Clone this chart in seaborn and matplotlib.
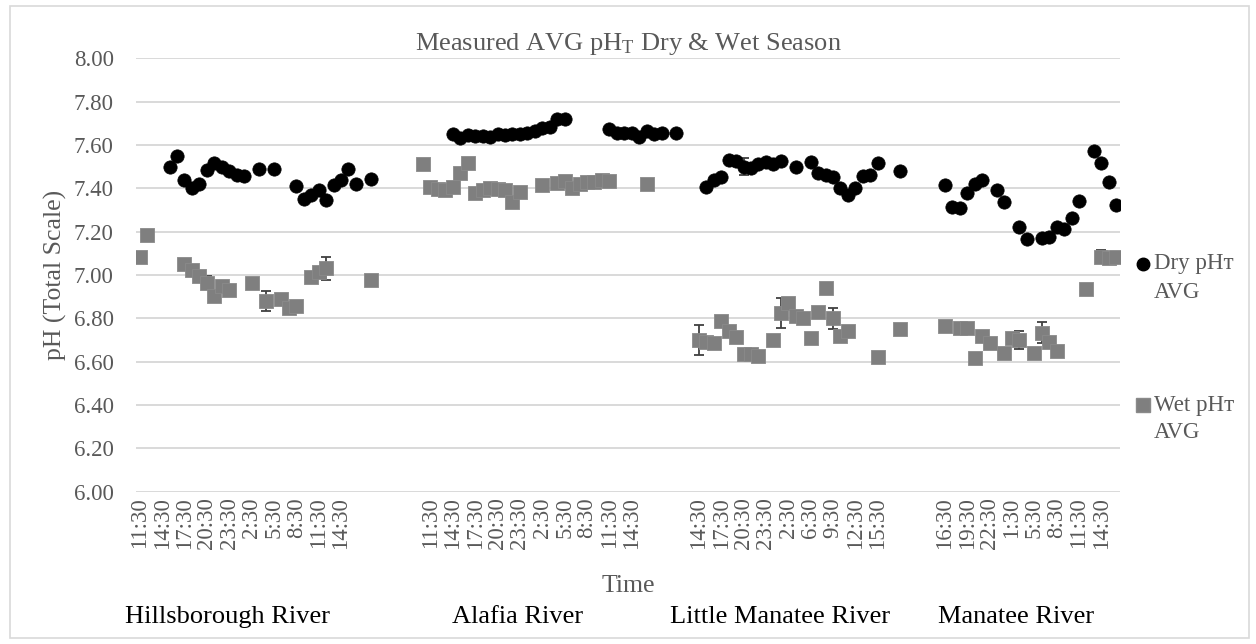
import numpy as np
import pandas as pd
import matplotlib
matplotlib.use("Agg")
import matplotlib.pyplot as plt
from matplotlib.lines import Line2D
from matplotlib.patches import Rectangle
import seaborn as sns

nan = np.nan

rivers = ["Hillsborough River", "Alafia River", "Little Manatee River", "Manatee River"]

# ---------------- Hillsborough River ----------------
hills_labels = ["11:30", "", "", "14:30", "", "", "17:30", "", "", "20:30", "", "", "23:30", "", "", "2:30",
                "", "", "5:30", "", "", "8:30", "", "", "11:30", "", "", "14:30", "", "", "", ""]
hills_dry = [nan, nan, nan, nan, 7.50, 7.55, 7.44, 7.40, 7.42, 7.485, 7.515, 7.50, 7.48, 7.46, 7.455, nan,
             7.49, nan, 7.49, nan, nan, 7.41, 7.35, 7.37, 7.39, 7.345, 7.415, 7.44, 7.49, 7.42, nan, 7.445]
hills_wet = [7.085, 7.185, nan, nan, nan, nan, 7.05, 7.025, 6.995, 6.965, 6.905, 6.95, 6.93, nan, nan, 6.965,
             nan, 6.88, nan, 6.89, 6.85, 6.855, nan, 6.99, 7.015, 7.03, nan, nan, nan, nan, nan, 6.975]
hills_wet_err = [0, 0, 0, 0, 0, 0, 0, 0, 0, 0.03, 0, 0, 0, 0, 0, 0,
                 0, 0.048, 0, 0, 0, 0, 0, 0, 0, 0.055, 0, 0, 0, 0, 0, 0]

# ---------------- Alafia River ----------------
alafia_labels = ["", "11:30", "", "", "14:30", "", "", "17:30", "", "", "20:30", "", "", "23:30", "", "",
                 "2:30", "", "", "5:30", "", "", "8:30", "", "", "11:30", "", "", "14:30", "", "", "", "", "", ""]
alafia_dry = [nan, nan, nan, nan, 7.65, 7.63, 7.645, 7.64, 7.64, 7.635, 7.65, 7.645, 7.65, 7.65, 7.655, 7.665,
              7.68, 7.685, 7.72, 7.72, nan, nan, nan, nan, nan, 7.675, 7.655, 7.655, 7.655, 7.635, 7.665, 7.65,
              7.655, nan, 7.655]
alafia_wet = [7.51, 7.408, 7.395, 7.39, 7.405, 7.47, 7.515, 7.377, 7.39, 7.40, 7.395, 7.39, 7.338, 7.385, nan, nan,
              7.415, nan, 7.426, 7.435, 7.40, 7.42, 7.43, 7.43, 7.437, 7.434, nan, nan, nan, nan, 7.418, nan,
              nan, nan, nan]

# ---------------- Little Manatee River ----------------
lm_labels = ["14:30", "", "", "17:30", "", "", "20:30", "", "", "23:30", "", "", "2:30", "", "", "6:30",
             "", "", "9:30", "", "", "12:30", "", "", "15:30", "", "", ""]
lm_dry = [nan, 7.405, 7.44, 7.45, 7.53, 7.525, 7.50, 7.495, 7.51, 7.52, 7.51, 7.525, nan, 7.50, nan, 7.52,
          7.47, 7.46, 7.45, 7.40, 7.37, 7.40, 7.455, 7.46, 7.515, nan, nan, 7.48]
lm_dry_err = [0, 0, 0, 0, 0, 0, 0.04, 0, 0, 0, 0, 0, 0, 0, 0, 0,
              0, 0, 0, 0, 0, 0, 0, 0, 0, 0, 0, 0]
lm_wet = [6.70, 6.69, 6.685, 6.79, 6.74, 6.715, 6.635, 6.635, 6.625, nan, 6.70, 6.825, 6.87, 6.81, 6.80, 6.71,
          6.83, 6.94, 6.80, 6.72, 6.74, nan, nan, nan, 6.62, nan, nan, 6.75]
lm_wet_err = [0.07, 0, 0, 0, 0, 0, 0, 0, 0, 0, 0, 0.07, 0, 0, 0, 0.02,
              0, 0, 0.05, 0, 0, 0, 0, 0, 0, 0, 0, 0]

# ---------------- Manatee River ----------------
man_labels = ["16:30", "", "", "19:30", "", "", "22:30", "", "", "1:30", "", "", "5:30", "", "", "8:30",
              "", "", "11:30", "", "", "14:30", "", ""]
man_dry = [7.415, 7.315, 7.31, 7.38, 7.42, 7.44, nan, 7.39, 7.335, nan, 7.22, 7.165, nan, 7.17, 7.177, 7.22,
           7.21, 7.265, 7.34, nan, 7.57, 7.515, 7.43, 7.325]
man_wet = [6.765, nan, 6.755, 6.755, 6.615, 6.72, 6.685, nan, 6.638, 6.708, 6.70, nan, 6.638, 6.734, 6.69, 6.65,
           nan, nan, nan, 6.935, nan, 7.085, 7.08, 7.085]
man_wet_err = [0, 0, 0, 0, 0, 0, 0, 0, 0, 0, 0.04, 0, 0, 0.05, 0, 0,
               0, 0, 0, 0, 0, 0.03, 0, 0]

# ---------------- assemble one categorical table ----------------
gap_slots = [0, 6, 2, 5]   # blank categories before each river group
groups = [
    (hills_labels, hills_dry, [0] * len(hills_dry), hills_wet, hills_wet_err),
    (alafia_labels, alafia_dry, [0] * len(alafia_dry), alafia_wet, [0] * len(alafia_wet)),
    (lm_labels, lm_dry, lm_dry_err, lm_wet, lm_wet_err),
    (man_labels, man_dry, [0] * len(man_dry), man_wet, man_wet_err),
]
rows = []
pos = 0
for (labs, dry, dry_e, wet, wet_e), gap, river in zip(groups, gap_slots, rivers):
    pos += gap
    for lab, d, de, w, we in zip(labs, dry, dry_e, wet, wet_e):
        rows.append(dict(x=pos, river=river, label=lab, dry=d, dry_err=de, wet=w, wet_err=we))
        pos += 1
df = pd.DataFrame(rows)
n_cat = pos

# ---------------- figure ----------------
sns.set_theme(style="white")
plt.rcParams["font.family"] = ["Liberation Serif", "DejaVu Serif", "DejaVu Sans"]
plt.rcParams["mathtext.fontset"] = "custom"
plt.rcParams["mathtext.rm"] = "Liberation Serif"
plt.rcParams["mathtext.default"] = "regular"

W, H = 1256, 644
fig = plt.figure(figsize=(W / 100, H / 100), dpi=100)
L, R, T, B = 136, 1120, 58.3, 491.7
ax = fig.add_axes([L / W, 1 - B / H, (R - L) / W, (B - T) / H])

GRAY_TXT = "#595959"
ax.set_xlim(-0.5, n_cat - 0.5)
ax.set_ylim(6.0, 8.0)
yt = np.round(np.arange(6.0, 8.001, 0.2), 2)
ax.set_yticks(yt)
ax.set_yticklabels([f"{v:.2f}" for v in yt])
lab_df = df[df["label"] != ""]
ax.set_xticks(lab_df["x"].to_numpy())
ax.set_xticklabels(lab_df["label"].tolist(), rotation=90)
ax.tick_params(axis="x", length=0, pad=4, labelsize=16.5, labelcolor=GRAY_TXT)
ax.tick_params(axis="y", length=0, pad=16, labelsize=16.5, labelcolor=GRAY_TXT)
for s in ax.spines.values():
    s.set_visible(False)
ax.yaxis.grid(True, color="#d9d9d9", lw=1.4)
ax.xaxis.grid(False)
ax.set_axisbelow(True)

# error bars
for col, ecol in [("dry", "dry_err"), ("wet", "wet_err")]:
    sub = df[(df[ecol] > 0) & df[col].notna()]
    ax.errorbar(sub["x"], sub[col], yerr=sub[ecol], fmt="none", ecolor="#404040",
                elinewidth=1.3, capsize=3.6, capthick=1.3, zorder=2)

sns.scatterplot(data=df, x="x", y="wet", marker="s", s=100, color="#7f7f7f",
                edgecolor="#8a8a8a", linewidth=0.6, ax=ax, zorder=3, legend=False)
sns.scatterplot(data=df, x="x", y="dry", marker="o", s=92, color="black",
                edgecolor="black", linewidth=0.5, ax=ax, zorder=4, legend=False)
ax.set_xlabel("")
ax.set_ylabel("")

# titles
fig.text(628 / W, 1 - 44 / H, r"Measured AVG pH$_{T}$ Dry & Wet Season", ha="center", va="center",
         fontsize=19, color=GRAY_TXT)
fig.text(55 / W, 1 - 275 / H, "pH (Total Scale)", rotation=90, ha="center", va="center",
         fontsize=18.5, color=GRAY_TXT)
fig.text(628 / W, 1 - 586 / H, "Time", ha="center", va="center", fontsize=18.5, color=GRAY_TXT)

# river group names
name_x = [11.8, 50.7, 85.9, 117.6]
for river, nx in zip(rivers, name_x):
    xf = (L + (nx + 0.5) * (R - L) / n_cat) / W
    fig.text(xf, 1 - 617 / H, river, ha="center", va="center", fontsize=19, color="black")

# legend (manual, Excel style)
fam = ["Liberation Serif", "DejaVu Sans"]
leg = [("Dry pHᴛ", "o", "black", "black", 264), ("Wet pHᴛ", "s", "#7f7f7f", "#8a8a8a", 405)]
for txt, mk, fc, ec, yy in leg:
    fig.add_artist(Line2D([1143 / W], [1 - yy / H], marker=mk, markersize=9 if mk == "o" else 10,
                          markerfacecolor=fc, markeredgecolor=ec, linestyle="none",
                          transform=fig.transFigure))
    fig.text(1154 / W, 1 - yy / H, txt, ha="left", va="center", fontsize=16.5, color=GRAY_TXT, family=fam)
    fig.text(1154 / W, 1 - (yy + 28) / H, "AVG", ha="left", va="center", fontsize=16.5, color=GRAY_TXT, family=fam)

# chart-area border
fig.add_artist(Rectangle((10 / W, 6 / H), 1239 / W, 632 / H, transform=fig.transFigure,
                         fill=False, edgecolor="#d9d9d9", lw=1.2))

fig.savefig("out.png", dpi=100, facecolor="white")
